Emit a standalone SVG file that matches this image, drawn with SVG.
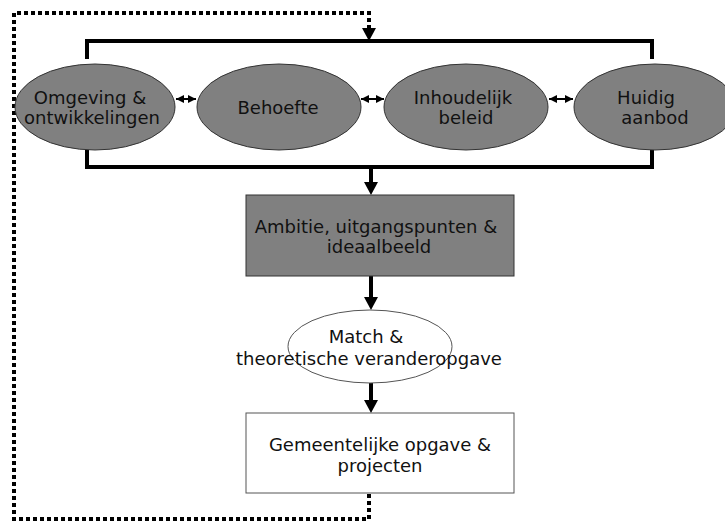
<svg xmlns="http://www.w3.org/2000/svg" width="725" height="522" viewBox="0 0 725 522">
  <style>
    .t { font-family: "DejaVu Sans", Verdana, sans-serif; font-size: 18px; fill: #111; text-anchor: middle; }
    .g { fill: #808080; stroke: #333; stroke-width: 1; }
    .w { fill: #fff; stroke: #555; stroke-width: 1; }
    .thick { fill: none; stroke: #000; stroke-width: 4; }
    .dot { fill: none; stroke: #000; stroke-width: 4; stroke-dasharray: 4 3; }
    .thin { fill: none; stroke: #000; stroke-width: 2; }
  </style>
  <defs>
    <marker id="sh" viewBox="0 0 10 10" refX="10" refY="5" markerWidth="4" markerHeight="4" orient="auto-start-reverse" markerUnits="strokeWidth">
      <path d="M0,0 L10,5 L0,10 z" fill="#000"/>
    </marker>
  </defs>

  <g id="connectors">
    <!-- feedback loop -->
    <path class="dot" d="M369,466 V519 H14 V13 H369 V28"/>
    <path d="M362,28 L376,28 L369,41 z" fill="#000"/>
    <!-- bracket around the four inputs -->
    <path class="thick" d="M87,59 V41 H652 V59"/>
    <path class="thick" d="M87,150 V167 H652 V150"/>
    <!-- vertical flow -->
    <line class="thick" x1="371" y1="167" x2="371" y2="183"/>
    <path d="M364,182 L378,182 L371,195 z" fill="#000"/>
    <line class="thick" x1="371" y1="276" x2="371" y2="298"/>
    <path d="M364,297 L378,297 L371,310 z" fill="#000"/>
    <line class="thick" x1="371" y1="383" x2="371" y2="401"/>
    <path d="M364,400 L378,400 L371,413 z" fill="#000"/>
    <!-- two-way links between inputs -->
    <line class="thin" x1="176" y1="99" x2="196" y2="99" marker-start="url(#sh)" marker-end="url(#sh)"/>
    <line class="thin" x1="361" y1="99" x2="384" y2="99" marker-start="url(#sh)" marker-end="url(#sh)"/>
    <line class="thin" x1="549" y1="99" x2="573" y2="99" marker-start="url(#sh)" marker-end="url(#sh)"/>
  </g>

  <g id="omgeving">
    <ellipse class="g" cx="95" cy="107" rx="80" ry="43"/>
    <text class="t" x="90" y="104">Omgeving &amp;</text>
    <text class="t" x="92" y="124">ontwikkelingen</text>
  </g>
  <g id="behoefte">
    <ellipse class="g" cx="279" cy="107" rx="82" ry="43"/>
    <text class="t" x="278" y="114">Behoefte</text>
  </g>
  <g id="beleid">
    <ellipse class="g" cx="466" cy="107" rx="82" ry="43"/>
    <text class="t" x="463" y="104">Inhoudelijk</text>
    <text class="t" x="466" y="124">beleid</text>
  </g>
  <g id="aanbod">
    <ellipse class="g" cx="655" cy="107" rx="81" ry="43"/>
    <text class="t" x="646" y="104">Huidig</text>
    <text class="t" x="655" y="124">aanbod</text>
  </g>

  <g id="ambitie">
    <rect class="g" x="246" y="195" width="268" height="81"/>
    <text class="t" x="376" y="233">Ambitie, uitgangspunten &amp;</text>
    <text class="t" x="379" y="253">ideaalbeeld</text>
  </g>

  <g id="match">
    <ellipse class="w" cx="370" cy="346.5" rx="82" ry="36.5"/>
    <text class="t" x="366" y="343">Match &amp;</text>
    <text class="t" x="369" y="365">theoretische veranderopgave</text>
  </g>

  <g id="opgave">
    <rect class="w" x="246" y="413" width="268" height="80"/>
    <text class="t" x="380" y="451">Gemeentelijke opgave &amp;</text>
    <text class="t" x="380" y="472">projecten</text>
  </g>
</svg>
